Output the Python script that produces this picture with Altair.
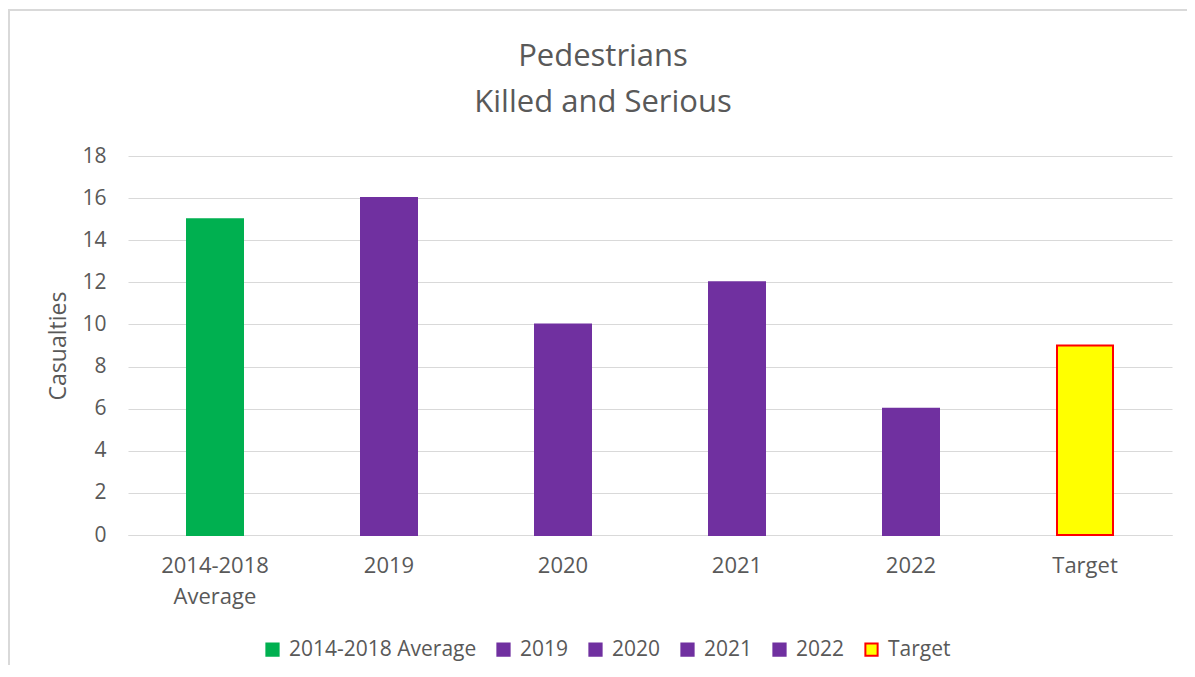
import altair as alt
import pandas as pd

categories = ["2014-2018 Average", "2019", "2020", "2021", "2022", "Target"]
values = [15, 16, 10, 12, 6, 9]
fills = ["#00B050", "#7030A0", "#7030A0", "#7030A0", "#7030A0", "#FFFF00"]
strokes = ["#00B050", "#7030A0", "#7030A0", "#7030A0", "#7030A0", "#FF0000"]
y_ticks = [0, 2, 4, 6, 8, 10, 12, 14, 16, 18]
title_lines = ["Pedestrians", "Killed and Serious"]

df = pd.DataFrame({"cat": categories, "val": values})

FONT = "Open Sans"
GREY = "#595959"

x_enc = alt.X(
    "cat:N",
    sort=categories,
    scale=alt.Scale(paddingInner=0, paddingOuter=0),
    axis=alt.Axis(
        title=None,
        labelAngle=0,
        labelFontSize=22,
        labelColor=GREY,
        labelFont=FONT,
        labelPadding=20,
        labelLineHeight=31,
        labelLimit=400,
        labelExpr="datum.label == '2014-2018 Average' ? ['2014-2018', 'Average'] : datum.label",
        ticks=False,
        domainColor="#D9D9D9",
        domainWidth=1,
        grid=False,
    ),
)
y_enc = alt.Y(
    "val:Q",
    scale=alt.Scale(domain=[0, 18], nice=False),
    axis=alt.Axis(
        title="Casualties",
        titleFontSize=23,
        titleFont=FONT,
        titleFontWeight="normal",
        titleColor=GREY,
        titlePadding=11,
        values=y_ticks,
        labelFontSize=21,
        labelFont=FONT,
        labelColor=GREY,
        labelPadding=22,
        ticks=False,
        domain=False,
        gridColor="#D9D9D9",
        gridWidth=1,
    ),
)

legend = alt.Legend(
    title=None,
    orient="none",
    direction="horizontal",
    legendX=134,
    legendY=483,
    symbolType="square",
    symbolSize=150,
    symbolStrokeWidth=2,
    labelFontSize=21,
    labelFont=FONT,
    labelColor=GREY,
    labelOffset=6,
    labelLimit=400,
    columnPadding=16,
    padding=0,
)

bars = alt.Chart(df).mark_bar(size=56, strokeWidth=2).encode(
    x=x_enc,
    y=y_enc,
    fill=alt.Fill("cat:N", sort=categories,
                  scale=alt.Scale(domain=categories, range=fills), legend=legend),
    stroke=alt.Stroke("cat:N", sort=categories,
                      scale=alt.Scale(domain=categories, range=strokes), legend=legend),
)

one = alt.Data(values=[{"a": 1}])
left_border = alt.Chart(one).mark_rule(color="#D9D9D9", strokeWidth=2).encode(
    x=alt.value(-119), y=alt.value(-146), y2=alt.value(540)
)
top_border = alt.Chart(one).mark_rule(color="#D9D9D9", strokeWidth=2).encode(
    y=alt.value(-146), x=alt.value(-120), x2=alt.value(1060)
)

title1 = alt.Chart(one).mark_text(
    text=title_lines[0], font=FONT, fontSize=31, color=GREY,
    align="center", baseline="alphabetic",
).encode(x=alt.value(475), y=alt.value(-90))
title2 = alt.Chart(one).mark_text(
    text=title_lines[1], font=FONT, fontSize=31, color=GREY,
    align="center", baseline="alphabetic",
).encode(x=alt.value(475), y=alt.value(-44))

chart = alt.layer(left_border, top_border, title1, title2, bars).properties(
    width=1044,
    height=379,
    autosize=alt.AutoSizeParams(type="none"),
    padding={"left": 120, "top": 148, "right": 15, "bottom": 130},
    background="white",
).configure_view(stroke=None)

chart.save("out.html", embed_options={"renderer": "svg", "actions": False})
